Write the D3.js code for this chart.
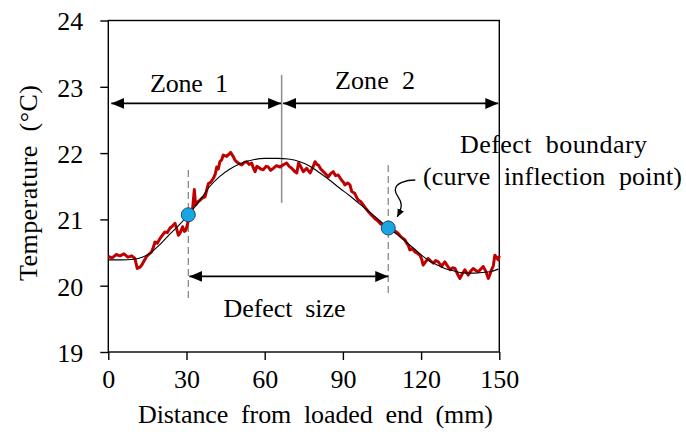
<!DOCTYPE html>
<html><head><meta charset="utf-8">
<script src="https://cdn.jsdelivr.net/npm/d3@7"></script>
<style>
body{margin:0;background:#fff}
svg text{font-family:"Liberation Serif",serif !important;font-size:26px;fill:#000;white-space:pre}
</style>
</head><body><svg id="c" width="686" height="432"></svg>
<script>
// ---------- data ----------
const xTicks = [0, 30, 60, 90, 120, 150];
const yTicks = [19, 20, 21, 22, 23, 24];
const xLabel = "Distance  from  loaded  end  (mm)";
const yLabel = "Temperature  (\u00B0C)";

// measured temperature profile (mm, °C)
const measuredX = [0,1.5,3,4.5,6,7.5,9,10.2,11.1,12.2,12.8,13.8,14.7,15.5,16.6,17.3,17.9,18.8,19.8,20.7,21.7,22.6,23.7,24.6,25.6,26.2,26.9,27.6,28.5,29.2,29.8,30.5,31.3,32.2,33.0,33.5,34.5,35.2,36.0,37.1,37.8,38.4,39.3,40.3,41.0,41.6,42.2,42.8,43.5,44.1,45.4,46.2,46.9,47.9,48.5,49.2,50.2,51.2,52.2,53.1,54.0,55.0,55.6,56.3,57.0,57.5,58.5,59.5,60.5,61.4,62.3,63.3,64.5,65.9,67.0,68.4,69.4,70.4,71.3,72.3,73.0,73.5,74.8,76.1,77.4,78.4,79.3,80.0,80.6,81.5,82.5,83.5,84.4,85.3,86.3,87.2,88.2,89.5,90.2,90.8,91.8,92.7,93.4,94.6,95.3,95.9,96.8,97.8,98.7,99.7,100.6,101.6,102.6,103.6,104.5,105.5,106.5,107.4,108.3,109.3,110.2,111.2,112.2,113.2,113.8,114.5,115.1,115.7,116.6,117.6,118.6,119.6,120.2,120.8,121.7,122.7,123.7,124.7,125.6,126.6,127.3,127.9,128.5,129.1,130.1,131.1,132.0,133.0,133.9,134.9,135.8,136.8,137.4,138.1,139.0,140.0,140.9,141.9,142.9,143.8,144.8,145.8,146.4,147.0,147.7,148.3,149.0,149.6,150];
const measuredT = [20.44,20.42,20.47,20.45,20.48,20.43,20.45,20.41,20.26,20.28,20.31,20.38,20.44,20.47,20.51,20.58,20.66,20.64,20.71,20.76,20.81,20.80,20.87,20.90,20.94,20.86,20.76,20.80,20.89,20.82,20.84,20.95,21.04,21.10,21.45,21.22,21.27,21.29,21.32,21.34,21.45,21.54,21.56,21.62,21.68,21.79,21.76,21.87,21.90,21.97,21.95,21.98,22.01,21.95,21.90,21.87,21.84,21.82,21.86,21.87,21.83,21.85,21.78,21.72,21.80,21.79,21.76,21.75,21.80,21.79,21.74,21.77,21.81,21.79,21.82,21.85,21.80,21.77,21.73,21.70,21.85,21.82,21.72,21.77,21.70,21.78,21.87,21.83,21.82,21.76,21.72,21.68,21.64,21.69,21.72,21.66,21.67,21.59,21.56,21.52,21.55,21.52,21.42,21.39,21.33,21.29,21.27,21.22,21.17,21.12,21.08,21.04,21.00,20.97,20.93,20.92,20.88,20.89,20.92,20.84,20.82,20.79,20.74,20.71,20.69,20.64,20.61,20.54,20.56,20.51,20.49,20.46,20.40,20.31,20.36,20.41,20.37,20.34,20.38,20.36,20.32,20.29,20.33,20.36,20.30,20.24,20.27,20.26,20.18,20.11,20.18,20.24,20.20,20.16,20.22,20.26,20.23,20.21,20.25,20.29,20.22,20.11,20.17,20.24,20.30,20.46,20.42,20.39,20.45];

// fitted curve (mm, °C)
const fitX = [0,5,10,13,16,19.8,23.7,27.5,30.7,35.2,39,42.8,46.7,50.5,55.6,60,65,69,73.5,77,81.2,85,88.8,92.5,96.5,100.3,104.2,107.4,111.9,114.8,117.6,120.5,123.4,126.3,129.1,132,134.9,137.8,140.6,143.5,146.4,149.6];
const fitT = [20.39,20.39,20.40,20.43,20.49,20.62,20.78,20.93,21.07,21.29,21.50,21.65,21.76,21.84,21.90,21.92,21.92,21.91,21.87,21.81,21.70,21.59,21.47,21.36,21.23,21.11,20.98,20.87,20.74,20.64,20.55,20.45,20.37,20.31,20.26,20.23,20.20,20.19,20.19,20.20,20.21,20.25];

// inflection points (defect boundaries)
const boundaryX = [30.7, 107.4];
const boundaryT = [21.07, 20.87];

// annotation values (data units)
const zoneSplit = 66.5;
const zoneArrowT = 22.75;
const defectArrowT = 20.14;
const dashTop = [21.745, 21.82];
const dashBottom = [19.78, 19.84];
const splitTop = 23.18, splitBottom = 21.25;

// ---------- drawing ----------
const FONT = "'Liberation Serif', serif";
const svg = d3.select("#c");
const x = d3.scaleLinear().domain([0,150]).range([108.3,499.3]);
const y = d3.scaleLinear().domain([19,24]).range([352,20.5]);

const defs = svg.append("defs");
defs.append("marker").attr("id","ah").attr("viewBox","-13 -6 13 12")
  .attr("refX",0).attr("refY",0).attr("markerWidth",13).attr("markerHeight",12)
  .attr("markerUnits","userSpaceOnUse").attr("orient","auto-start-reverse")
  .append("path").attr("d","M0,0L-13,-5.5L-13,5.5Z").attr("fill","#000");
defs.append("marker").attr("id","ahs").attr("viewBox","-8 -4 8 8")
  .attr("refX",0).attr("refY",0).attr("markerWidth",8).attr("markerHeight",8)
  .attr("markerUnits","userSpaceOnUse").attr("orient","auto")
  .append("path").attr("d","M0,0L-8,-3.5L-8,3.5Z").attr("fill","#000");

// axes
const xAxis = svg.append("g").attr("transform",`translate(0,${y(19)})`)
  .call(d3.axisBottom(x).tickValues(xTicks).tickSize(8).tickPadding(10).tickFormat(d3.format("d")));
const yAxis = svg.append("g").attr("transform",`translate(${x(0)},0)`)
  .call(d3.axisLeft(y).tickValues(yTicks).tickSize(8).tickPadding(17).tickFormat(d3.format("d")));
[xAxis,yAxis].forEach(g=>{
  g.attr("font-family",FONT).attr("font-size",26);
  g.select(".domain").remove();
  g.selectAll("line").attr("stroke","#000").attr("stroke-width",1.4);
  g.selectAll("text").attr("fill","#000");
});
xAxis.selectAll("text").attr("dy","0.71em");
yAxis.selectAll("text").attr("dy","0.36em");

// plot frame
svg.append("rect").attr("x",x(0)).attr("y",y(24)).attr("width",x(150)-x(0)).attr("height",y(19)-y(24))
  .attr("fill","none").attr("stroke","#000").attr("stroke-width",1.4);

// axis titles
svg.append("text").attr("font-family",FONT).attr("x",315.5).attr("y",422.5).attr("text-anchor","middle")
  .attr("textLength",355).attr("lengthAdjust","spacing").text(xLabel);
svg.append("text").attr("font-family",FONT).attr("transform","translate(37,183) rotate(-90)").attr("text-anchor","middle")
  .attr("textLength",196).attr("lengthAdjust","spacing").text(yLabel);

// dashed boundary lines
boundaryX.forEach((bx,i)=>{
  svg.append("line").attr("x1",x(bx)).attr("x2",x(bx)).attr("y1",y(dashTop[i])).attr("y2",y(dashBottom[i]))
    .attr("stroke","#808080").attr("stroke-width",1.2).attr("stroke-dasharray","7,4");
});

// zone separator
svg.append("line").attr("x1",x(zoneSplit)).attr("x2",x(zoneSplit)).attr("y1",y(splitTop)).attr("y2",y(splitBottom))
  .attr("stroke","#8c8c8c").attr("stroke-width",1.5);

// measured line
const measured = measuredX.map((d,i)=>[d,measuredT[i]]);
svg.append("path").datum(measured)
  .attr("d",d3.line().x(d=>x(d[0])).y(d=>y(d[1])))
  .attr("fill","none").attr("stroke","#c00000").attr("stroke-width",3).attr("stroke-linejoin","round");

// fitted curve
const fitted = fitX.map((d,i)=>[d,fitT[i]]);
svg.append("path").datum(fitted)
  .attr("d",d3.line().curve(d3.curveMonotoneX).x(d=>x(d[0])).y(d=>y(d[1])))
  .attr("fill","none").attr("stroke","#000").attr("stroke-width",1.1);

// boundary points
svg.selectAll("circle.b").data(boundaryX.map((d,i)=>[d,boundaryT[i]])).enter().append("circle")
  .attr("cx",d=>x(d[0])).attr("cy",d=>y(d[1])).attr("r",7)
  .attr("fill","#1aa6e0").attr("stroke","#1b4a7a").attr("stroke-width",1);

// double arrows
function dArrow(x1,x2,yy){
  svg.append("line").attr("x1",x1).attr("x2",x2).attr("y1",yy).attr("y2",yy)
    .attr("stroke","#000").attr("stroke-width",1.6)
    .attr("marker-start","url(#ah)").attr("marker-end","url(#ah)");
}
dArrow(x(0)+3, x(zoneSplit)-0.5, y(zoneArrowT));
dArrow(x(zoneSplit)+1.5, x(150)-1, y(zoneArrowT));
dArrow(x(boundaryX[0])+1, x(boundaryX[1]), y(defectArrowT));

// texts
function label(t,cx,by,w){
  svg.append("text").attr("font-family",FONT).attr("x",cx).attr("y",by).attr("text-anchor","middle")
    .attr("textLength",w).attr("lengthAdjust","spacing").text(t);
}
label("Zone  1",189,91.5,78);
label("Zone  2",375,88.5,80);
label("Defect  size",284.5,316.5,122);
label("Defect  boundary",553.5,153,187);
label("(curve  inflection  point)",552.5,185,259);

// curly pointer to the second boundary point
const bx = x(boundaryX[1]), by = y(boundaryT[1]);
svg.append("path")
  .attr("d",`M${bx+27},${by-48} C${bx+18},${by-48} ${bx+7},${by-45} ${bx+7},${by-38} C${bx+7},${by-32} ${bx+13},${by-30} ${bx+13},${by-23} C${bx+13},${by-18} ${bx+11},${by-15} ${bx+9},${by-11}`)
  .attr("fill","none").attr("stroke","#000").attr("stroke-width",1.3).attr("marker-end","url(#ahs)");
</script>
</body></html>
